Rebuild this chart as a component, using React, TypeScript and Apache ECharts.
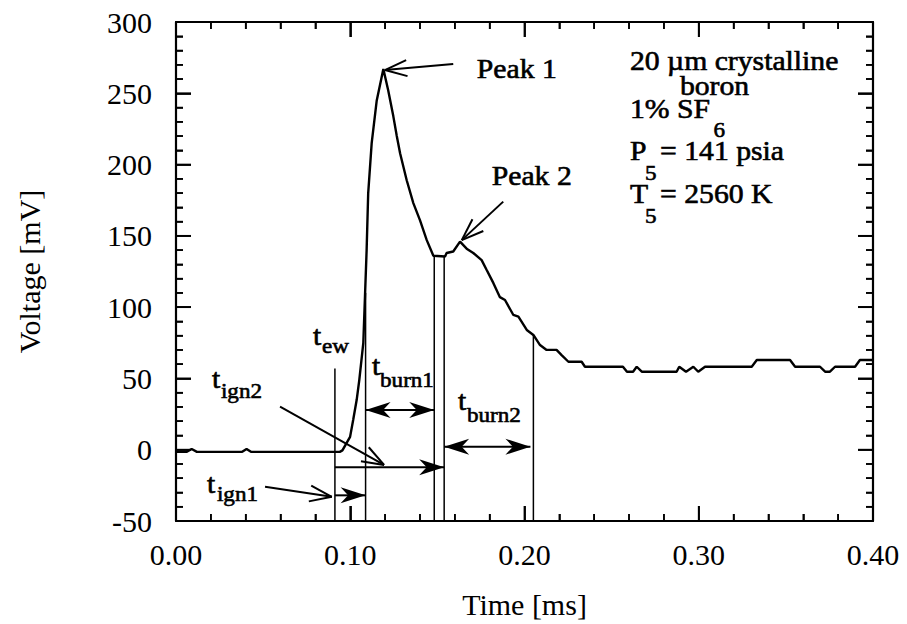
import React, { useEffect, useRef } from "react";
import * as echarts from "echarts";

const FONT = "'Liberation Serif', 'Times New Roman', Times, serif";

// ---- data ----
const timeMs = [
  0.0, 0.006, 0.009, 0.012, 0.038, 0.0405, 0.043, 0.094, 0.0955, 0.0999,
  0.1017, 0.1037, 0.1052, 0.1075, 0.1094, 0.1103, 0.1123, 0.1152, 0.119, 0.1218,
  0.1247, 0.1267, 0.1286, 0.1324, 0.1362, 0.14, 0.1439, 0.1477, 0.1544, 0.1553,
  0.1591, 0.163, 0.1668, 0.1706, 0.1754, 0.1783, 0.1821, 0.1859, 0.1888, 0.1936,
  0.1965, 0.2013, 0.2051, 0.2089, 0.2127, 0.2184, 0.2213, 0.2252, 0.2328, 0.2347,
  0.2565, 0.2588, 0.2623, 0.2644, 0.2673, 0.2873, 0.2888, 0.2927, 0.2969, 0.2997,
  0.3036, 0.3304, 0.3333, 0.3524, 0.3553, 0.3696, 0.3725, 0.3753, 0.3782, 0.3897,
  0.3925, 0.4,
];
const voltageMv = [
  -1.5, -1.5, 0.5, -1.5, -1.5, 0.5, -1.5, -1.5, -0.5, 9,
  21, 35, 49, 75, 140, 180, 215, 245, 267, 252,
  234, 220, 208, 189, 173, 161, 147, 136, 135.5, 138,
  139, 146, 141, 138, 133, 126, 117, 107, 105, 94.5,
  93.3, 84, 80.5, 73.4, 70, 70, 66.4, 61.7, 61.7, 58.2,
  58.2, 54.7, 54.7, 58.2, 54.7, 54.7, 58.2, 54.7, 58.2, 54.7,
  58.2, 58.2, 62.9, 62.9, 58.2, 58.2, 54.7, 54.7, 58.2, 58.2,
  62.9, 62.9,
];

const xTickLabels = ["0.00", "0.10", "0.20", "0.30", "0.40"];
const yTickLabels = ["-50", "0", "50", "100", "150", "200", "250", "300"];

// vertical marker lines: [time, top voltage]
const markerTimes = [0.0912, 0.1088, 0.1482, 0.1539, 0.2051];
const markerTops = [57, 110, 135.4, 135.4, 80.5];

// interval arrows (time start, time end, voltage, double-headed?)
const intervalStart = [0.0912, 0.0912, 0.1088, 0.1539];
const intervalEnd = [0.1088, 0.1539, 0.1482, 0.2034];
const intervalLevel = [-32, -12.3, 27.9, 2.1];
const intervalDouble = [false, false, true, true];

// pointer arrows (from label to target), open heads
const pointerFrom: [number, number][] = [
  [0.1591, 270.5],
  [0.1878, 174],
  [0.0597, 30.2],
  [0.0511, -25.9],
];
const pointerTo: [number, number][] = [
  [0.1199, 266.3],
  [0.164, 147],
  [0.1194, -10.7],
  [0.0894, -33],
];

// "t" labels with subscripts
const tLabelSubs = ["ew", "ign2", "ign1", "burn1", "burn2"];
const tLabelMain: [number, number][] = [
  [0.0786, 79.8],
  [0.0207, 49.6],
  [0.0178, -24.0],
  [0.1125, 58.7],
  [0.1618, 34.2],
];
const tLabelSub: [number, number][] = [
  [0.0838, 72.7],
  [0.0258, 41.2],
  [0.0235, -31.1],
  [0.1171, 48.9],
  [0.167, 24.3],
];

// plain annotation texts
const plainTexts = ["Peak 1", "Peak 2", "20 \u00b5m crystalline", "boron", "1% SF", "P", "= 141 psia", "T", "= 2560 K"];
const plainPos: [number, number][] = [
  [0.1726, 267.0],
  [0.1812, 192.0],
  [0.2605, 272.6],
  [0.2892, 255.1],
  [0.2605, 239.0],
  [0.2605, 209.5],
  [0.2778, 209.5],
  [0.2605, 179.4],
  [0.2778, 179.4],
];
const subTexts = ["6", "5", "5"];
const subPos: [number, number][] = [
  [0.3085, 224.2],
  [0.2692, 194.1],
  [0.2692, 164.2],
];

const X_MIN = 0, X_MAX = 0.4, X_STEP = 0.1;
const Y_MIN = -50, Y_MAX = 300, Y_STEP = 50;
const MINOR_SPLIT = 5;

const MAIN_FS = 27;
const SUB_FS = 21;
const SX = 1.1;

function buildGraphics(chart: any) {
  const p = (x: number, y: number): [number, number] =>
    chart.convertToPixel({ seriesIndex: 0 }, [x, y]) as [number, number];
  const els: any[] = [];
  const line = (a: [number, number], b: [number, number], w = 1.6) =>
    els.push({
      type: "line",
      silent: true,
      z: 100,
      shape: { x1: a[0], y1: a[1], x2: b[0], y2: b[1] },
      style: { stroke: "#000", lineWidth: w },
    });

  // inward frame ticks on all four sides (mirrors of the axis ticks)
  const nx = Math.round((X_MAX - X_MIN) / X_STEP) * MINOR_SPLIT;
  for (let k = 0; k <= nx; k++) {
    const v = X_MIN + (k * X_STEP) / MINOR_SPLIT;
    const len = k % MINOR_SPLIT === 0 ? 15 : 7;
    const w = k % MINOR_SPLIT === 0 ? 1.8 : 1.6;
    const b = p(v, Y_MIN);
    const t = p(v, Y_MAX);
    line(b, [b[0], b[1] - len], w);
    line(t, [t[0], t[1] + len], w);
  }
  const ny = Math.round((Y_MAX - Y_MIN) / Y_STEP) * MINOR_SPLIT;
  for (let k = 0; k <= ny; k++) {
    const v = Y_MIN + (k * Y_STEP) / MINOR_SPLIT;
    const len = k % MINOR_SPLIT === 0 ? 15 : 7;
    const w = k % MINOR_SPLIT === 0 ? 1.8 : 1.6;
    const l = p(X_MIN, v);
    const r = p(X_MAX, v);
    line(l, [l[0] + len, l[1]], w);
    line(r, [r[0] - len, r[1]], w);
  }

  const filledHead = (tip: [number, number], from: [number, number]) => {
    const dx = tip[0] - from[0];
    const dy = tip[1] - from[1];
    const len = Math.hypot(dx, dy) || 1;
    const ux = dx / len, uy = dy / len;
    const nxv = -uy, nyv = ux;
    const L = 25, W = 8;
    const bx = tip[0] - ux * L, by = tip[1] - uy * L;
    const cx = tip[0] - ux * L * 0.7, cy = tip[1] - uy * L * 0.7;
    els.push({
      type: "polygon",
      silent: true,
      z: 100,
      shape: {
        points: [
          [tip[0], tip[1]],
          [bx + nxv * W, by + nyv * W],
          [cx, cy],
          [bx - nxv * W, by - nyv * W],
        ],
      },
      style: { fill: "#000" },
    });
  };
  const openHead = (tip: [number, number], from: [number, number]) => {
    const dx = tip[0] - from[0];
    const dy = tip[1] - from[1];
    const len = Math.hypot(dx, dy) || 1;
    const ux = dx / len, uy = dy / len;
    const nxv = -uy, nyv = ux;
    const L = 22, W = 8;
    line(tip, [tip[0] - ux * L + nxv * W, tip[1] - uy * L + nyv * W], 2);
    line(tip, [tip[0] - ux * L - nxv * W, tip[1] - uy * L - nyv * W], 2);
  };
  const text = (s: string, pos: [number, number], fs: number) => {
    const [x, y] = p(pos[0], pos[1]);
    els.push({
      type: "text",
      silent: true,
      z: 100,
      x,
      y,
      scaleX: SX,
      style: {
        text: s,
        fontSize: fs,
        fontFamily: FONT,
        fill: "#000",
        stroke: "#000",
        lineWidth: 0.6,
        align: "left",
        verticalAlign: "middle",
        textAlign: "left",
        textVerticalAlign: "middle",
      },
    });
  };

  markerTimes.forEach((t, i) => line(p(t, Y_MIN), p(t, markerTops[i]), 1.5));

  intervalStart.forEach((t0, i) => {
    const a = p(t0, intervalLevel[i]);
    const b = p(intervalEnd[i], intervalLevel[i]);
    line(a, b, 2);
    filledHead(b, a);
    if (intervalDouble[i]) filledHead(a, b);
  });

  pointerFrom.forEach((f, i) => {
    const a = p(f[0], f[1]);
    const b = p(pointerTo[i][0], pointerTo[i][1]);
    line(a, b, 2);
    openHead(b, a);
  });

  tLabelSubs.forEach((s, i) => {
    text("t", tLabelMain[i], MAIN_FS);
    text(s, tLabelSub[i], SUB_FS);
  });
  plainTexts.forEach((s, i) => text(s, plainPos[i], MAIN_FS));
  subTexts.forEach((s, i) => text(s, subPos[i], SUB_FS));
  return els;
}

function frameAxis(extra: any) {
  return {
    type: "value",
    z: 50,
    axisLine: { show: true, onZero: false, lineStyle: { color: "#000", width: 2.2 } },
    axisTick: { show: true, inside: true, length: 15, lineStyle: { color: "#000", width: 1.8 } },
    minorTick: { show: true, splitNumber: MINOR_SPLIT, length: 7, lineStyle: { color: "#000", width: 1.6 } },
    splitLine: { show: false },
    minorSplitLine: { show: false },
    ...extra,
  };
}

export default function App() {
  const ref = useRef<HTMLDivElement>(null);
  useEffect(() => {
    if (!ref.current) return;
    const chart = echarts.init(ref.current, null, { renderer: "svg" });
    const labelStyle = () => ({
      color: "#000",
      fontFamily: FONT,
      fontSize: 30,
    });
    const xLab = (v: number) => xTickLabels[Math.round((v - X_MIN) / X_STEP)] ?? "";
    const yLab = (v: number) => yTickLabels[Math.round((v - Y_MIN) / Y_STEP)] ?? "";
    chart.setOption({
      animation: false,
      backgroundColor: "#fff",
      grid: { left: 176, right: 34, top: 22, bottom: 103, containLabel: false },
      xAxis: [
        frameAxis({
          min: X_MIN,
          max: X_MAX,
          interval: X_STEP,
          position: "bottom",
          axisLabel: { ...labelStyle(), margin: 18, formatter: xLab },
          name: "Time [ms]",
          nameLocation: "middle",
          nameGap: 68,
          nameTextStyle: labelStyle(),
        }),
        frameAxis({
          min: X_MIN,
          max: X_MAX,
          interval: X_STEP,
          position: "top",
          axisLabel: { show: false },
        }),
      ],
      yAxis: [
        frameAxis({
          min: Y_MIN,
          max: Y_MAX,
          interval: Y_STEP,
          position: "left",
          axisLabel: { ...labelStyle(), margin: 24, formatter: yLab },
          name: "Voltage [mV]",
          nameLocation: "middle",
          nameGap: 132,
          nameTextStyle: labelStyle(),
        }),
        frameAxis({
          min: Y_MIN,
          max: Y_MAX,
          interval: Y_STEP,
          position: "right",
          axisLabel: { show: false },
        }),
      ],
      series: [
        {
          type: "line",
          xAxisIndex: 0,
          yAxisIndex: 0,
          data: timeMs.map((t, i) => [t, voltageMv[i]]),
          showSymbol: false,
          symbol: "none",
          smooth: false,
          lineStyle: { color: "#000", width: 2.4 },
        },
      ],
    });
    chart.setOption({ graphic: buildGraphics(chart) });
    return () => chart.dispose();
  }, []);
  return (
    <div
      ref={ref}
      style={{ position: "absolute", left: 0, top: 0, width: 907, height: 624, background: "#fff" }}
    />
  );
}
